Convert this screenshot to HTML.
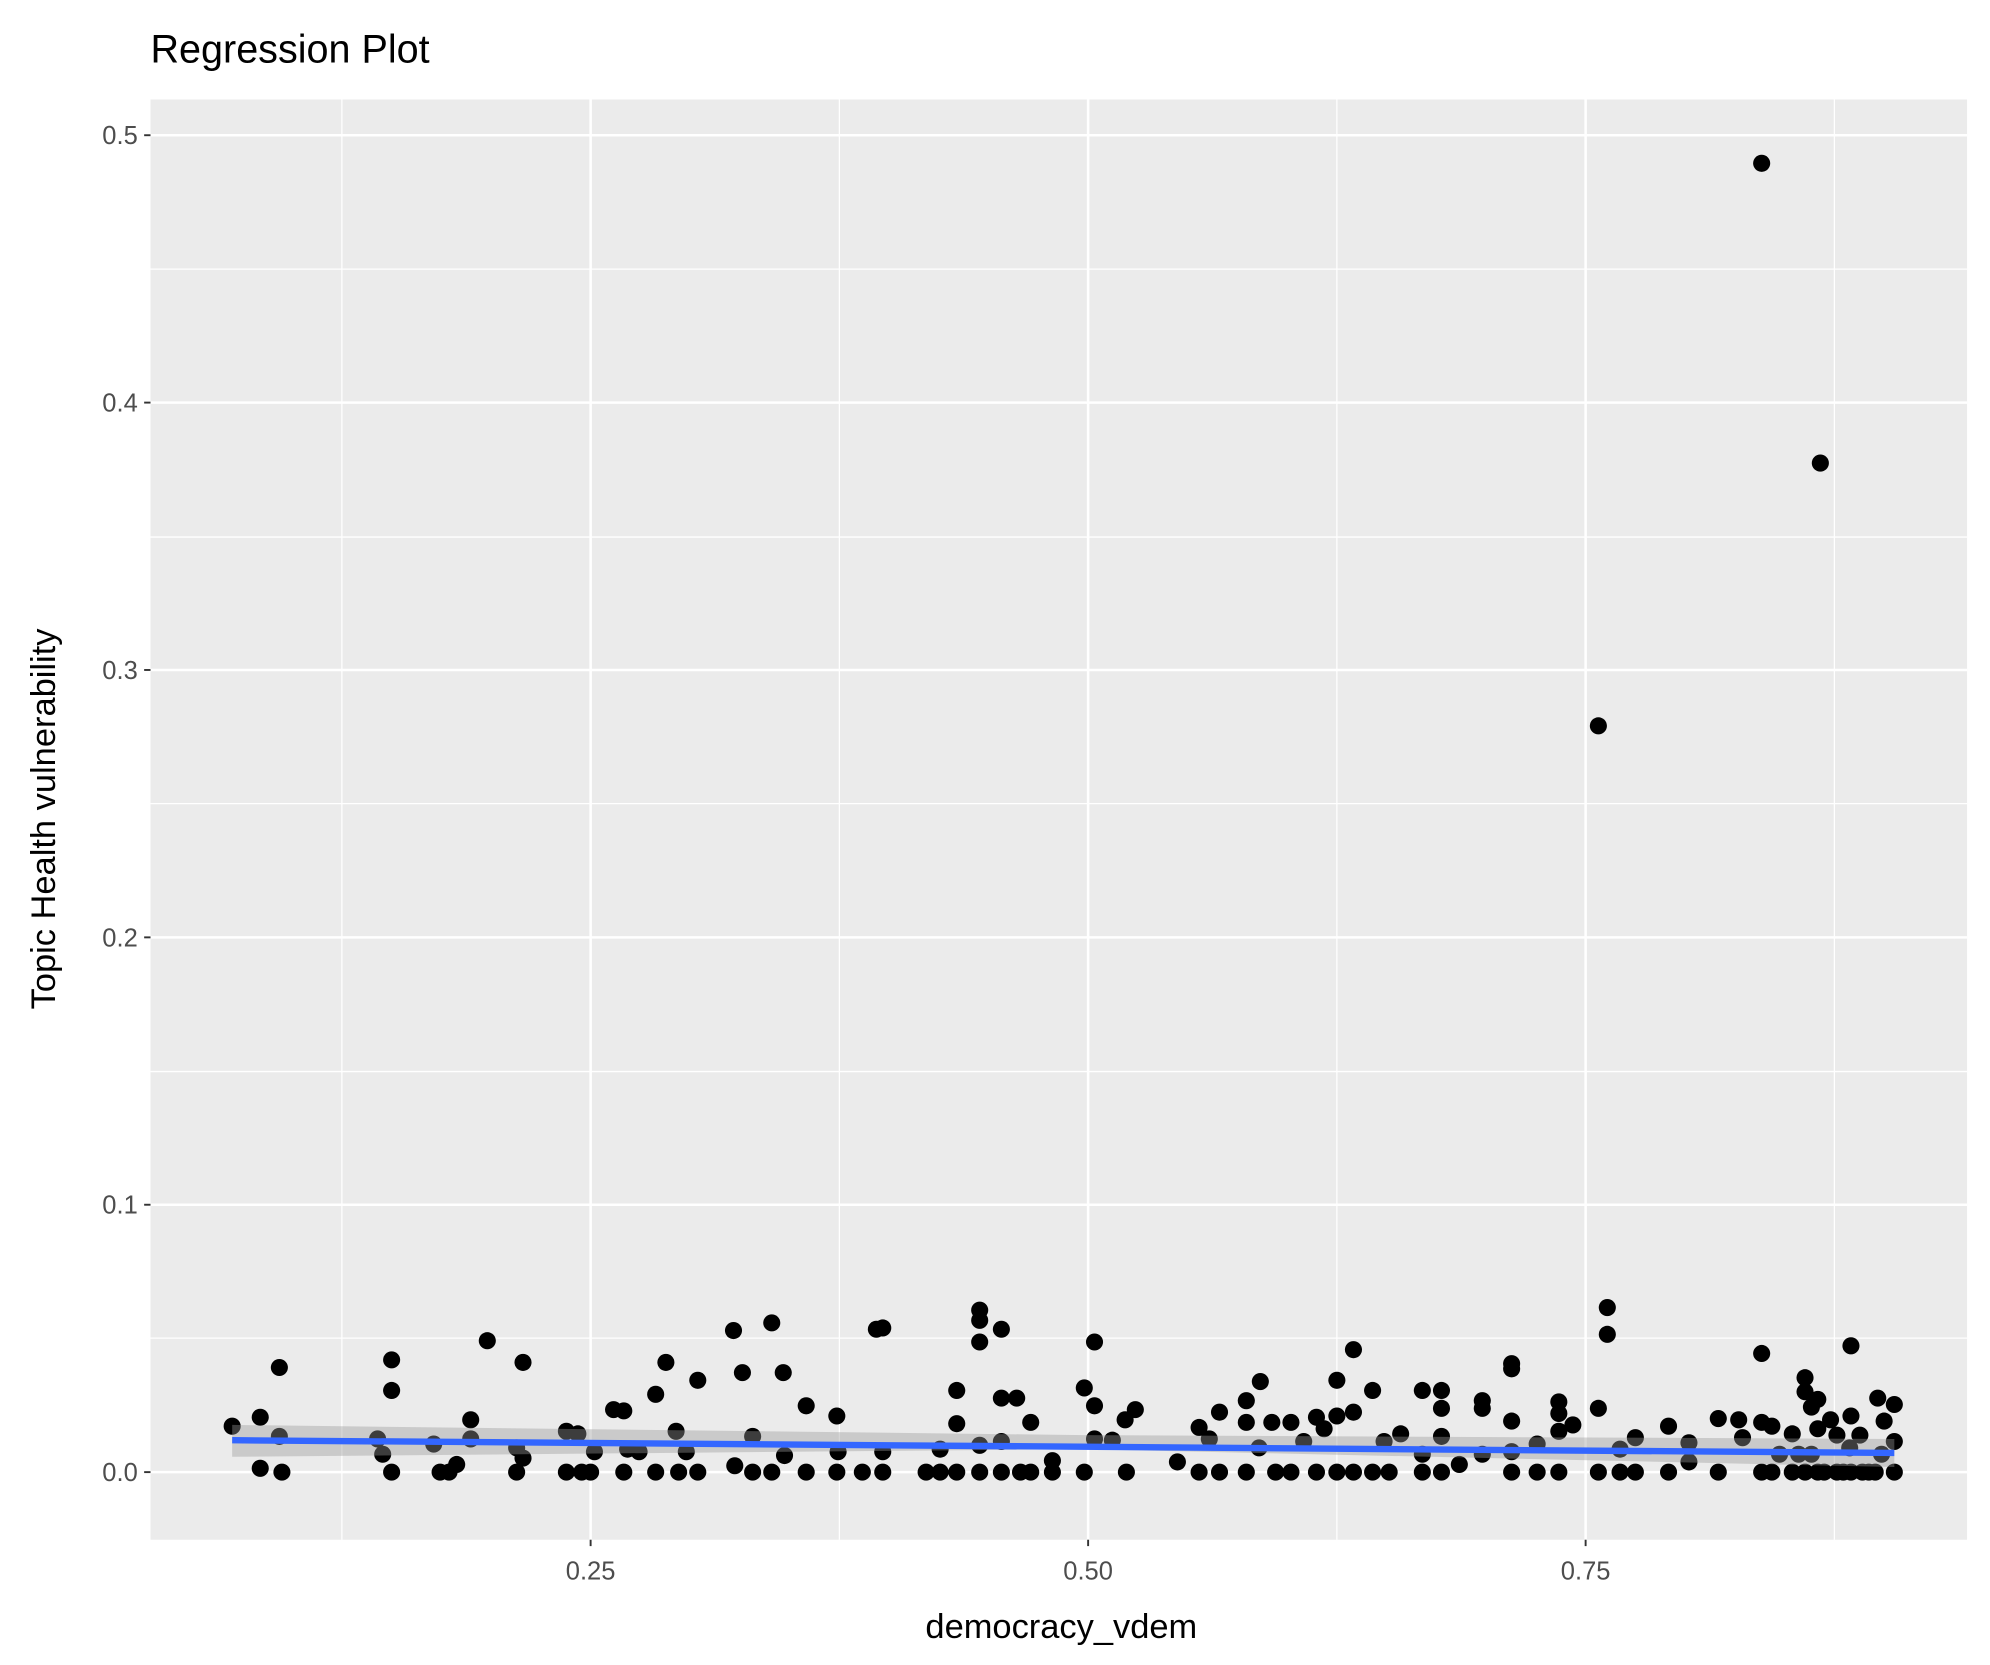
<!DOCTYPE html>
<html><head><style>html,body{margin:0;padding:0;background:#fff}svg{display:block}circle{r:6.7px}</style></head>
<body>
<svg width="1990" height="1665" viewBox="0 0 1560 1305.2" preserveAspectRatio="none" xmlns="http://www.w3.org/2000/svg" font-family="Liberation Sans, sans-serif">
<rect width="1560" height="1306" fill="#fff"/>
<text x="118" y="49" font-size="31" fill="#000">Regression Plot</text>
<rect x="118" y="78" width="1424" height="1129" fill="#ebebeb"/>
<g stroke="#fff" stroke-width="1">
<line x1="118" x2="1542" y1="1049" y2="1049"/><line x1="118" x2="1542" y1="840" y2="840"/><line x1="118" x2="1542" y1="630" y2="630"/><line x1="118" x2="1542" y1="421" y2="421"/><line x1="118" x2="1542" y1="211" y2="211"/>
<line y1="78" y2="1207" x1="268" x2="268"/><line y1="78" y2="1207" x1="658" x2="658"/><line y1="78" y2="1207" x1="1048" x2="1048"/><line y1="78" y2="1207" x1="1438" x2="1438"/>
</g>
<g stroke="#fff" stroke-width="2">
<line x1="118" x2="1542" y1="1154" y2="1154"/><line x1="118" x2="1542" y1="944.4" y2="944.4"/><line x1="118" x2="1542" y1="734.8" y2="734.8"/><line x1="118" x2="1542" y1="525.2" y2="525.2"/><line x1="118" x2="1542" y1="315.6" y2="315.6"/><line x1="118" x2="1542" y1="106" y2="106"/>
<line y1="78" y2="1207" x1="463" x2="463"/><line y1="78" y2="1207" x1="853" x2="853"/><line y1="78" y2="1207" x1="1243" x2="1243"/>
</g>
<g fill="#000">
<circle cx="1381" cy="128" r="6.2"/><circle cx="1427" cy="363" r="6.2"/><circle cx="1253" cy="569" r="6.2"/>
<circle cx="182" cy="1118" r="6.2"/><circle cx="204" cy="1111" r="6.2"/><circle cx="204" cy="1151" r="6.2"/><circle cx="219" cy="1072" r="6.2"/><circle cx="219" cy="1126" r="6.2"/><circle cx="221" cy="1154" r="6.2"/>
<circle cx="296" cy="1128" r="6.2"/><circle cx="300" cy="1140" r="6.2"/><circle cx="307" cy="1066" r="6.2"/><circle cx="307" cy="1090" r="6.2"/><circle cx="307" cy="1154" r="6.2"/><circle cx="340" cy="1132" r="6.2"/><circle cx="345" cy="1154" r="6.2"/><circle cx="352" cy="1154" r="6.2"/><circle cx="358" cy="1148" r="6.2"/><circle cx="369" cy="1113" r="6.2"/><circle cx="369" cy="1128" r="6.2"/><circle cx="382" cy="1051" r="6.2"/><circle cx="405" cy="1135" r="6.2"/><circle cx="405" cy="1154" r="6.2"/><circle cx="410" cy="1068" r="6.2"/><circle cx="410" cy="1143" r="6.2"/>
<circle cx="444" cy="1122" r="6.2"/><circle cx="444" cy="1154" r="6.2"/><circle cx="453" cy="1124" r="6.2"/><circle cx="456" cy="1154" r="6.2"/><circle cx="463" cy="1154" r="6.2"/><circle cx="466" cy="1138" r="6.2"/><circle cx="481" cy="1105" r="6.2"/><circle cx="489" cy="1106" r="6.2"/><circle cx="489" cy="1154" r="6.2"/><circle cx="492" cy="1136" r="6.2"/><circle cx="501" cy="1138" r="6.2"/><circle cx="514" cy="1093" r="6.2"/><circle cx="514" cy="1154" r="6.2"/><circle cx="522" cy="1068" r="6.2"/><circle cx="530" cy="1122" r="6.2"/><circle cx="532" cy="1154" r="6.2"/><circle cx="538" cy="1138" r="6.2"/><circle cx="547" cy="1082" r="6.2"/><circle cx="547" cy="1154" r="6.2"/><circle cx="575" cy="1043" r="6.2"/><circle cx="576" cy="1149" r="6.2"/><circle cx="582" cy="1076" r="6.2"/><circle cx="590" cy="1126" r="6.2"/><circle cx="590" cy="1154" r="6.2"/><circle cx="605" cy="1037" r="6.2"/><circle cx="605" cy="1154" r="6.2"/><circle cx="614" cy="1076" r="6.2"/><circle cx="615" cy="1141" r="6.2"/><circle cx="632" cy="1102" r="6.2"/><circle cx="632" cy="1154" r="6.2"/><circle cx="656" cy="1110" r="6.2"/><circle cx="656" cy="1154" r="6.2"/><circle cx="657" cy="1138" r="6.2"/><circle cx="676" cy="1154" r="6.2"/><circle cx="687" cy="1042" r="6.2"/><circle cx="692" cy="1041" r="6.2"/><circle cx="692" cy="1154" r="6.2"/><circle cx="692" cy="1138" r="6.2"/>
<circle cx="726" cy="1154" r="6.2"/><circle cx="737" cy="1136" r="6.2"/><circle cx="737" cy="1154" r="6.2"/><circle cx="750" cy="1090" r="6.2"/><circle cx="750" cy="1116" r="6.2"/><circle cx="750" cy="1154" r="6.2"/><circle cx="768" cy="1027" r="6.2"/><circle cx="768" cy="1035" r="6.2"/><circle cx="768" cy="1052" r="6.2"/><circle cx="768" cy="1133" r="6.2"/><circle cx="768" cy="1154" r="6.2"/><circle cx="785" cy="1042" r="6.2"/><circle cx="785" cy="1096" r="6.2"/><circle cx="785" cy="1130" r="6.2"/><circle cx="785" cy="1154" r="6.2"/><circle cx="797" cy="1096" r="6.2"/><circle cx="800" cy="1154" r="6.2"/><circle cx="808" cy="1115" r="6.2"/><circle cx="808" cy="1154" r="6.2"/><circle cx="825" cy="1154" r="6.2"/><circle cx="825" cy="1145" r="6.2"/>
<circle cx="850" cy="1088" r="6.2"/><circle cx="858" cy="1052" r="6.2"/><circle cx="858" cy="1102" r="6.2"/><circle cx="858" cy="1128" r="6.2"/><circle cx="850" cy="1154" r="6.2"/><circle cx="872" cy="1129" r="6.2"/><circle cx="882" cy="1113" r="6.2"/><circle cx="883" cy="1154" r="6.2"/><circle cx="890" cy="1105" r="6.2"/>
<circle cx="923" cy="1146" r="6.2"/><circle cx="940" cy="1119" r="6.2"/><circle cx="940" cy="1154" r="6.2"/><circle cx="948" cy="1128" r="6.2"/><circle cx="956" cy="1107" r="6.2"/><circle cx="956" cy="1154" r="6.2"/><circle cx="977" cy="1098" r="6.2"/><circle cx="977" cy="1115" r="6.2"/><circle cx="977" cy="1154" r="6.2"/><circle cx="988" cy="1083" r="6.2"/><circle cx="987" cy="1135" r="6.2"/><circle cx="997" cy="1115" r="6.2"/><circle cx="1000" cy="1154" r="6.2"/><circle cx="1012" cy="1115" r="6.2"/><circle cx="1012" cy="1154" r="6.2"/><circle cx="1022" cy="1130" r="6.2"/><circle cx="1032" cy="1111" r="6.2"/><circle cx="1032" cy="1154" r="6.2"/><circle cx="1038" cy="1120" r="6.2"/><circle cx="1048" cy="1110" r="6.2"/><circle cx="1048" cy="1082" r="6.2"/><circle cx="1048" cy="1154" r="6.2"/><circle cx="1061" cy="1058" r="6.2"/><circle cx="1061" cy="1107" r="6.2"/><circle cx="1061" cy="1154" r="6.2"/><circle cx="1076" cy="1090" r="6.2"/><circle cx="1076" cy="1154" r="6.2"/><circle cx="1085" cy="1130" r="6.2"/><circle cx="1089" cy="1154" r="6.2"/><circle cx="1098" cy="1124" r="6.2"/><circle cx="1115" cy="1090" r="6.2"/><circle cx="1115" cy="1140" r="6.2"/><circle cx="1115" cy="1154" r="6.2"/><circle cx="1130" cy="1090" r="6.2"/><circle cx="1130" cy="1104" r="6.2"/><circle cx="1130" cy="1154" r="6.2"/><circle cx="1130" cy="1126" r="6.2"/><circle cx="1144" cy="1148" r="6.2"/><circle cx="1162" cy="1098" r="6.2"/><circle cx="1162" cy="1104" r="6.2"/><circle cx="1162" cy="1140" r="6.2"/>
<circle cx="1185" cy="1069" r="6.2"/><circle cx="1185" cy="1073" r="6.2"/><circle cx="1185" cy="1114" r="6.2"/><circle cx="1185" cy="1154" r="6.2"/><circle cx="1185" cy="1138" r="6.2"/><circle cx="1205" cy="1132" r="6.2"/><circle cx="1205" cy="1154" r="6.2"/><circle cx="1222" cy="1099" r="6.2"/><circle cx="1222" cy="1108" r="6.2"/><circle cx="1222" cy="1154" r="6.2"/><circle cx="1222" cy="1122" r="6.2"/><circle cx="1233" cy="1117" r="6.2"/><circle cx="1253" cy="1104" r="6.2"/><circle cx="1253" cy="1154" r="6.2"/><circle cx="1260" cy="1025" r="6.2"/><circle cx="1260" cy="1046" r="6.2"/><circle cx="1270" cy="1136" r="6.2"/><circle cx="1270" cy="1154" r="6.2"/><circle cx="1282" cy="1127" r="6.2"/><circle cx="1282" cy="1154" r="6.2"/><circle cx="1308" cy="1118" r="6.2"/><circle cx="1308" cy="1154" r="6.2"/><circle cx="1324" cy="1131" r="6.2"/><circle cx="1324" cy="1146" r="6.2"/><circle cx="1347" cy="1112" r="6.2"/><circle cx="1347" cy="1154" r="6.2"/><circle cx="1363" cy="1113" r="6.2"/><circle cx="1366" cy="1127" r="6.2"/><circle cx="1381" cy="1061" r="6.2"/><circle cx="1381" cy="1115" r="6.2"/><circle cx="1381" cy="1154" r="6.2"/><circle cx="1389" cy="1118" r="6.2"/><circle cx="1389" cy="1154" r="6.2"/><circle cx="1405" cy="1124" r="6.2"/><circle cx="1405" cy="1154" r="6.2"/><circle cx="1415" cy="1080" r="6.2"/><circle cx="1415" cy="1091" r="6.2"/><circle cx="1420" cy="1103" r="6.2"/><circle cx="1425" cy="1097" r="6.2"/><circle cx="1425" cy="1120" r="6.2"/><circle cx="1425" cy="1154" r="6.2"/><circle cx="1435" cy="1113" r="6.2"/><circle cx="1440" cy="1154" r="6.2"/><circle cx="1451" cy="1055" r="6.2"/><circle cx="1451" cy="1110" r="6.2"/><circle cx="1451" cy="1154" r="6.2"/><circle cx="1458" cy="1125" r="6.2"/><circle cx="1465" cy="1154" r="6.2"/><circle cx="1472" cy="1096" r="6.2"/><circle cx="1477" cy="1114" r="6.2"/><circle cx="1485" cy="1101" r="6.2"/><circle cx="1485" cy="1130" r="6.2"/><circle cx="1485" cy="1154" r="6.2"/><circle cx="1470" cy="1154" r="6.2"/><circle cx="1460" cy="1154" r="6.2"/><circle cx="1445" cy="1154" r="6.2"/><circle cx="1430" cy="1154" r="6.2"/><circle cx="1415" cy="1154" r="6.2"/><circle cx="1410" cy="1140" r="6.2"/><circle cx="1450" cy="1135" r="6.2"/><circle cx="1440" cy="1125" r="6.2"/><circle cx="1395" cy="1140" r="6.2"/><circle cx="1475" cy="1140" r="6.2"/><circle cx="1420" cy="1140" r="6.2"/>
</g>
<path d="M182,1117 L850,1125 L1485,1128 L1485,1150 L850,1136 L182,1142 Z" fill="#999" fill-opacity="0.4"/>
<line x1="182" y1="1129" x2="1485" y2="1139" stroke="#3366ff" stroke-width="5"/>
<g stroke="#333" stroke-width="1.5">
<line x1="113" x2="118" y1="1154" y2="1154"/><line x1="113" x2="118" y1="944.4" y2="944.4"/><line x1="113" x2="118" y1="734.8" y2="734.8"/><line x1="113" x2="118" y1="525.2" y2="525.2"/><line x1="113" x2="118" y1="315.6" y2="315.6"/><line x1="113" x2="118" y1="106" y2="106"/>
<line x1="463" x2="463" y1="1207" y2="1212"/><line x1="853" x2="853" y1="1207" y2="1212"/><line x1="1243" x2="1243" y1="1207" y2="1212"/>
</g>
<g font-size="20" fill="#4d4d4d" text-anchor="end">
<text x="108" y="1161">0.0</text><text x="108" y="951.4">0.1</text><text x="108" y="741.8">0.2</text><text x="108" y="532.2">0.3</text><text x="108" y="322.6">0.4</text><text x="108" y="113">0.5</text>
</g>
<g font-size="20" fill="#4d4d4d" text-anchor="middle">
<text x="463" y="1238">0.25</text><text x="853" y="1238">0.50</text><text x="1243" y="1238">0.75</text>
</g>
<text x="832" y="1284" font-size="27" text-anchor="middle">democracy_vdem</text>
<text transform="translate(43,642) rotate(-90)" font-size="27" text-anchor="middle">Topic Health vulnerability</text>
</svg>
</body></html>
